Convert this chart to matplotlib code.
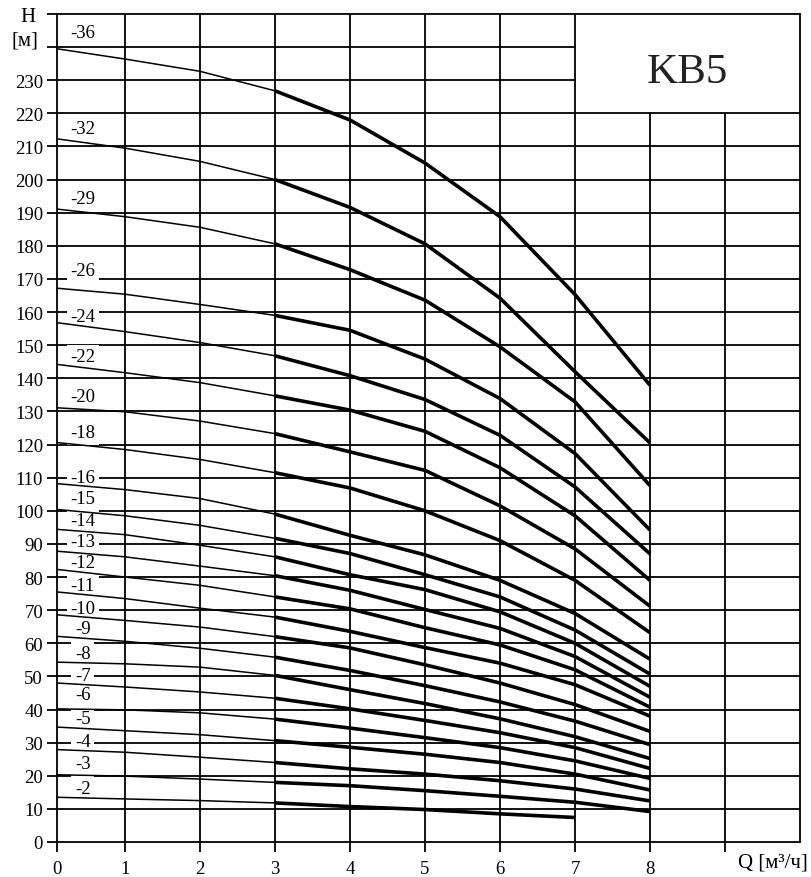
import numpy as np
import matplotlib
matplotlib.use("Agg")
import matplotlib.pyplot as plt

# ---------------- data ----------------
Q = [0, 1, 2, 3, 4, 5, 6, 7, 8]
stages = [36, 32, 29, 26, 24, 22, 20, 18, 16, 15, 14, 13, 12, 11, 10, 9, 8, 7, 6, 5, 4, 3, 2]

H36 = [239.5, 236.4, 232.7, 226.8, 218.0, 205.0, 188.8, 165.3, 137.9]
H32 = [212.3, 209.5, 205.5, 200.0, 191.6, 180.6, 164.2, 142.0, 120.5]
H29 = [191.1, 188.8, 185.6, 180.6, 172.8, 163.6, 149.5, 132.9, 107.6]
H26 = [167.2, 165.4, 162.3, 159.0, 154.5, 145.8, 133.9, 117.3, 94.2]
H24 = [156.8, 154.1, 150.8, 146.8, 140.8, 133.6, 122.8, 107.2, 87.0]
H22 = [144.2, 141.7, 138.7, 134.7, 130.4, 124.0, 113.0, 98.5, 79.0]
H20 = [131.1, 129.9, 127.1, 123.3, 117.8, 112.2, 101.5, 88.5, 71.2]
H18 = [120.6, 118.5, 115.5, 111.5, 106.9, 100.0, 91.0, 79.0, 63.2]
H16 = [108.2, 106.4, 103.7, 99.0, 92.6, 86.7, 79.0, 69.0, 55.2]
H15 = [100.4, 98.5, 95.6, 91.7, 87.1, 80.7, 74.0, 64.0, 50.7]
H14 = [94.4, 92.8, 89.6, 86.1, 80.7, 76.2, 69.5, 60.0, 47.0]
H13 = [87.8, 86.1, 83.3, 80.4, 76.0, 70.2, 64.5, 56.0, 43.7]
H12 = [82.3, 80.0, 77.5, 74.0, 70.4, 64.7, 59.5, 52.0, 40.7]
H11 = [75.5, 73.5, 70.6, 67.9, 63.6, 58.7, 54.0, 47.5, 38.0]
H10 = [68.6, 66.9, 64.9, 62.0, 58.6, 53.5, 48.0, 41.5, 33.4]
H9 = [62.1, 60.6, 58.5, 55.8, 51.8, 47.2, 42.3, 36.5, 29.4]
H8 = [54.3, 53.8, 52.8, 50.3, 46.0, 41.8, 37.2, 31.8, 25.2]
H7 = [48.0, 46.8, 45.3, 43.4, 40.2, 36.7, 33.0, 28.5, 22.2]
H6 = [40.2, 39.9, 39.0, 37.1, 34.4, 31.5, 28.5, 24.5, 19.2]
H5 = [34.7, 33.6, 32.4, 30.6, 28.6, 26.5, 24.0, 20.5, 15.7]
H4 = [27.9, 27.1, 25.6, 24.0, 22.1, 20.5, 18.5, 16.0, 12.4]
H3 = [20.3, 19.9, 19.0, 18.0, 17.0, 15.5, 13.8, 12.0, 9.2]
H2 = [13.5, 13.0, 12.5, 11.8, 10.7, 9.8, 8.5, 7.4]

curves = [H36, H32, H29, H26, H24, H22, H20, H18, H16, H15, H14, H13,
          H12, H11, H10, H9, H8, H7, H6, H5, H4, H3, H2]

label_y = [244.3, 215.5, 194.4, 172.6, 158.6, 146.5, 134.4, 123.6, 110.2, 103.7,
           97.1, 90.8, 84.3, 77.5, 70.6, 64.4, 56.8, 50.3, 44.4, 37.4, 30.3, 23.6, 16.2]

title = "KB5"
x_ticklabels = ["0", "1", "2", "3", "4", "5", "6", "7", "8", ""]
y_ticklabels = [str(v) for v in range(0, 240, 10)] + ["", ""]

# ---------------- style ----------------
FONT = "Liberation Serif"
plt.rcParams["font.family"] = [FONT, "DejaVu Serif"]

W, H = 811, 878
fig = plt.figure(figsize=(W / 100, H / 100), dpi=100)
ax = fig.add_axes([57 / W, (H - 843) / H, (800 - 57) / W, (843 - 15) / H])

# the first grid interval is drawn narrower than the others in the original
k = 0.9067
def fwd(x):
    x = np.asarray(x, dtype=float)
    return np.where(x <= 1, x * k, x - (1 - k))
def inv(y):
    y = np.asarray(y, dtype=float)
    return np.where(y <= k, y / k, y + (1 - k))

ax.set_xscale("function", functions=(fwd, inv))
ax.set_xlim(0, 10)
ax.set_ylim(0, 250)

GW = 1.3
# horizontal grid lines
for yv in range(10, 250, 10):
    xend = 7 if yv > 220 else 10
    ax.plot([0, xend], [yv, yv], color="black", lw=GW, zorder=1, solid_capstyle="butt")
# vertical grid lines
for xv in range(1, 10):
    ytop = 220 if xv >= 8 else 250
    ax.plot([xv, xv], [0, ytop], color="black", lw=GW, zorder=1, solid_capstyle="butt")

for s in ["left", "right", "top", "bottom"]:
    ax.spines[s].set_linewidth(GW)
    ax.spines[s].set_color("black")

# title in the top-right box
ax.text(8.5, 232.5, title, ha="center", va="center", fontsize=31, family=FONT,
        color="#222222", zorder=5)

# curves: thin for Q<3, thick beyond
for n, h, ly in zip(stages, curves, label_y):
    qq = Q[:len(h)]
    ax.plot(qq[:4], h[:4], color="black", lw=1.1, zorder=4, solid_capstyle="butt")
    ax.plot(qq[3:], h[3:], color="black", lw=2.6, zorder=4, solid_capstyle="butt",
            solid_joinstyle="round")
    ax.text(0.38, ly, f"-{n}", ha="center", va="center", fontsize=13.5, family=FONT,
            zorder=3, bbox=dict(boxstyle="square,pad=0.2", fc="white", ec="none"))

# ticks
ax.set_xticks(range(0, 10))
ax.set_xticklabels(x_ticklabels)
ax.set_yticks(range(0, 260, 10))
ax.set_yticklabels(y_ticklabels)
ax.tick_params(axis="both", direction="out", length=7, width=GW, labelsize=13.5, color="black")
ax.tick_params(axis="x", pad=6)
ax.tick_params(axis="y", pad=3)
for lab in ax.get_xticklabels() + ax.get_yticklabels():
    lab.set_family(FONT)

# axis labels
fig.text(28 / W, 1 - 17 / H, "H", ha="center", va="center", fontsize=15, family=FONT)
fig.text(25 / W, 1 - 41 / H, "[м]", ha="center", va="center", fontsize=15, family=FONT)
fig.text(808 / W, 1 - 863 / H, "Q [м³/ч]", ha="right", va="center", fontsize=15, family=FONT)

fig.savefig("out.png", dpi=100, facecolor="white")
